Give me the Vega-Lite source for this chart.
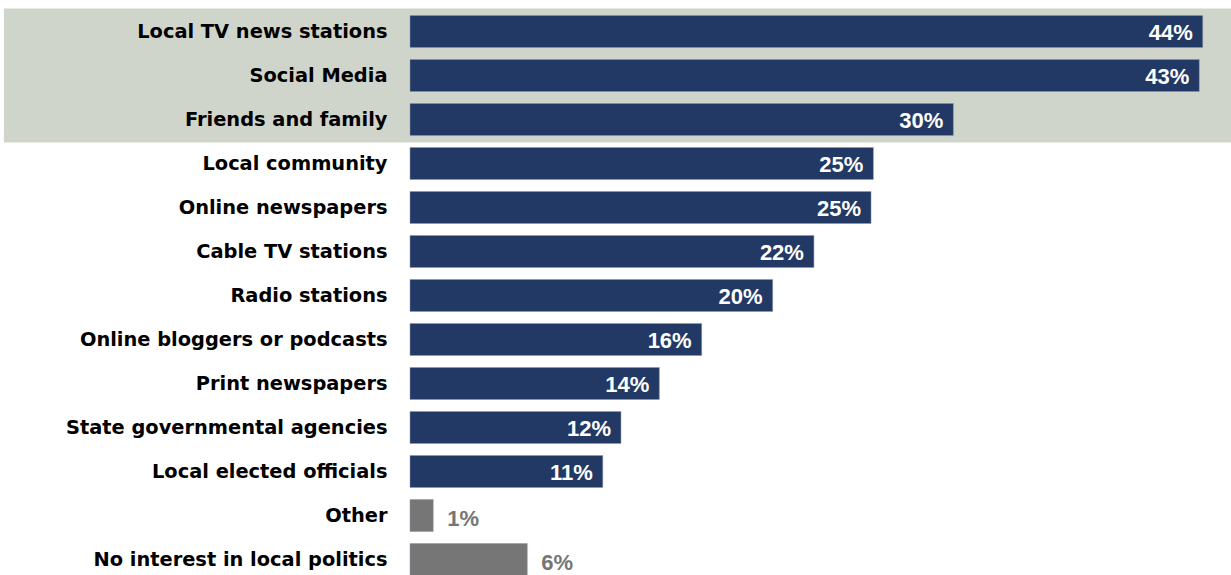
{
  "$schema": "https://vega.github.io/schema/vega-lite/v6.json",
  "width": 821,
  "height": 572,
  "autosize": {"type": "none"},
  "padding": {"left": 410, "top": 9.5, "right": 0, "bottom": 0},
  "background": "#ffffff",
  "config": {"view": {"stroke": null}},
  "data": {
    "values": [
      {"source": "Local TV news stations", "value": 44.0, "label": "44%", "kind": "source"},
      {"source": "Social Media", "value": 43.81, "label": "43%", "kind": "source"},
      {"source": "Friends and family", "value": 30.16, "label": "30%", "kind": "source"},
      {"source": "Local community", "value": 25.72, "label": "25%", "kind": "source"},
      {"source": "Online newspapers", "value": 25.59, "label": "25%", "kind": "source"},
      {"source": "Cable TV stations", "value": 22.42, "label": "22%", "kind": "source"},
      {"source": "Radio stations", "value": 20.13, "label": "20%", "kind": "source"},
      {"source": "Online bloggers or podcasts", "value": 16.19, "label": "16%", "kind": "source"},
      {"source": "Print newspapers", "value": 13.84, "label": "14%", "kind": "source"},
      {"source": "State governmental agencies", "value": 11.71, "label": "12%", "kind": "source"},
      {"source": "Local elected officials", "value": 10.7, "label": "11%", "kind": "source"},
      {"source": "Other", "value": 1.29, "label": "1%", "kind": "none"},
      {"source": "No interest in local politics", "value": 6.51, "label": "6%", "kind": "none"}
    ]
  },
  "encoding": {
    "y": {
      "field": "source",
      "type": "nominal",
      "sort": null,
      "scale": {"paddingInner": 0, "paddingOuter": 0},
      "axis": {
        "title": null,
        "domain": false,
        "ticks": false,
        "labelPadding": 23,
        "labelFont": "DejaVu Sans",
        "labelFontWeight": "bold",
        "labelFontSize": 19.4,
        "labelColor": "#000000",
        "labelLimit": 400,
        "zindex": 1
      }
    }
  },
  "layer": [
    {
      "transform": [{"filter": {"field": "source", "oneOf": ["Local TV news stations", "Social Media", "Friends and family"]}}],
      "mark": {"type": "bar", "color": "#D0D5CB", "height": 46},
      "encoding": {
        "x": {"datum": -22.54, "type": "quantitative", "scale": {"domain": [0, 45.57], "nice": false, "zero": true}, "axis": null},
        "x2": {"datum": 45.57}
      }
    },
    {
      "mark": {"type": "bar", "height": 32, "stroke": "#8a97b0", "strokeWidth": 0.5},
      "encoding": {
        "x": {"field": "value", "type": "quantitative", "axis": null},
        "color": {
          "field": "kind",
          "type": "nominal",
          "scale": {"domain": ["source", "none"], "range": ["#233965", "#767676"]},
          "legend": null
        }
      }
    },
    {
      "transform": [{"filter": "datum.kind === 'source'"}],
      "mark": {"type": "text", "align": "right", "baseline": "middle", "dx": -10, "dy": 1, "font": "Liberation Sans", "fontWeight": "bold", "fontSize": 22, "color": "#ffffff"},
      "encoding": {
        "x": {"field": "value", "type": "quantitative"},
        "text": {"field": "label"}
      }
    },
    {
      "transform": [{"filter": "datum.kind === 'none'"}],
      "mark": {"type": "text", "align": "left", "baseline": "middle", "dx": 14, "dy": 3, "font": "Liberation Sans", "fontWeight": "bold", "fontSize": 22, "color": "#767676"},
      "encoding": {
        "x": {"field": "value", "type": "quantitative"},
        "text": {"field": "label"}
      }
    }
  ]
}
